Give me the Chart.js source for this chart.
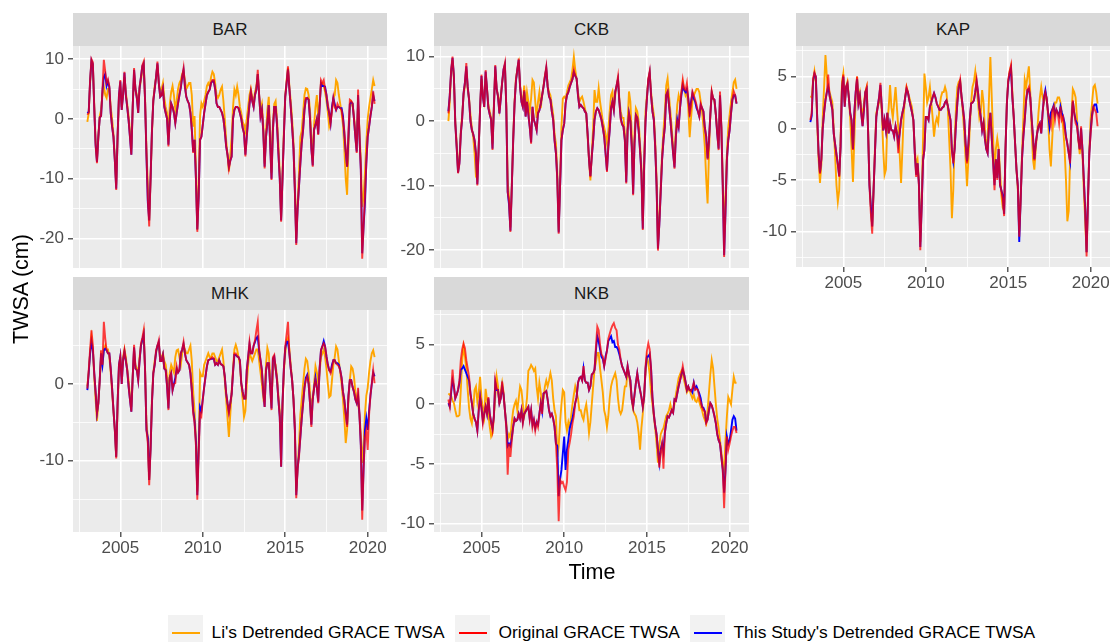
<!DOCTYPE html>
<html><head><meta charset="utf-8">
<script src="https://cdn.jsdelivr.net/npm/chart.js@4/dist/chart.umd.min.js"></script>
<style>
body{margin:0;background:#fff;}
#root{position:relative;width:1113px;height:642px;overflow:hidden;font-family:"Liberation Sans",Arial,sans-serif;background:#fff;}
.strip{position:absolute;background:#d9d9d9;color:#1a1a1a;font-size:17px;display:flex;align-items:center;justify-content:center;}
canvas{position:absolute;}
.title{position:absolute;color:#000;font-size:21.5px;text-align:center;white-space:nowrap;}
.lkey{position:absolute;width:35px;height:34px;background:#f2f2f2;}
.lkey div{position:absolute;left:4px;right:3px;top:17px;height:2px;}
.ltext{position:absolute;font-size:17.4px;color:#000;line-height:24px;white-space:nowrap;}
</style></head>
<body><div id="root"></div>
<script>
// ---- time grid: monthly samples, Jan 2003 .. Jun 2020 ----
const START_YEAR = 2003;
const N_MONTHS = 210;
const xTicks = [2002.5, 2005, 2007.5, 2010, 2012.5, 2015, 2017.5, 2020];
const seriesNames = ["Li's Detrended GRACE TWSA", "Original GRACE TWSA", "This Study's Detrended GRACE TWSA"];

// ---- BAR ----
const barOrig = [
0.7,1.0,6.5,10.0,9.5,2,-4.5,-7.4,-3,0.2,0.5,5,
9.9,8,6,6.6,5.5,1,-1.3,-3,-7,-11.9,-3,4,
6.5,1.5,4,7.9,4,2,-0.2,-3,-6,2,8.5,5,
3.5,1,5.4,7,9,9.6,3,-6,-13.5,-18,-10,-2,
3.2,5,7,9.6,6,3.7,4,5.1,2,1,0,-4.6,
0,2.6,2,1,-0.7,1,2.6,4,5.4,7,8.5,5.4,
3.7,3,2.5,1,-1.8,-5.7,-3.5,-10,-18.9,-13,-3.5,-3,
-1,1,2.5,4,4.5,4.9,6,6.5,6.5,5,2.6,2,
2,1.5,1,0,-2,-4.6,-6,-8.3,-7,-6.3,0,1.5,
2,2,1.8,1,0,-1.5,-2.4,-6.3,-3,0,2.5,4.6,
3,2,4,4.9,8.2,4,0.4,1.5,-2,-8.3,-3,-0.7,
2.3,-4,-10.2,-2,2,2,-1,-5.7,-10,-17.2,-10,-3,
3.7,6,8.8,5,2,-1.3,-5,-12,-21.1,-15,-11.3,-7.4,
-4,-1.8,1.5,3.5,3.5,3.2,0,-5,-8,-1.8,-1,0,
-2.7,2,6.5,6,6.5,5,4,2.5,1,-0.7,1.5,3.5,
2,1.5,2.5,2,1.8,1.5,0,-2,-5.2,-8,-2,3.2,
3,2.6,0,-3,-5.7,4.9,-3,-8.5,-23.4,-18,-13,-7.4,
-3,-1.3,0.5,2,4.6,2.5];
const barStudy = [
1.0,1.2,6.3,9.8,9.2,2,-4.3,-7.2,-3,0.2,0.5,4.8,
7,7.5,5.5,6.3,5.3,1,-1.3,-3,-7,-11.7,-3,4,
6.3,1.5,4,7.7,4,2,-0.2,-3,-6,2,8.2,5,
3.5,1,5.2,7,8.8,9.3,3,-6,-14,-17,-10,-2,
3,5,7,9.3,6,3.7,4,5,2,1,0,-4.3,
0,2.6,2,1,-0.7,1,2.6,4,5.2,7,8.2,5.4,
3.7,3,2.5,1,-1.8,-5.5,-3.5,-10,-18.5,-13,-3.5,-3,
-1,1,2.5,4,4.5,4.9,6,6.3,6.3,5,2.6,2,
2,1.5,1,0,-2,-4.6,-6,-8,-7,-6.3,0,1.5,
2,2,1.8,1,0,-1.5,-2.4,-6,-3,0,2.5,4.4,
3,2,4,4.9,7.5,4,0.4,1.5,-2,-8,-3,-0.7,
2.3,-4,-10,-2,2,2,-1,-5.7,-10,-17,-10,-3,
3.7,6,8.3,5,2,-1.3,-5,-12,-20.8,-15,-11.3,-7.4,
-4,-1.8,1.5,3.3,3.5,3.2,0,-5,-7.8,-1.8,-1,0,
-2.5,2,6,5.5,5.5,5.4,4,2,1,-0.7,2,3.5,
2.5,1.5,2,2,1.8,1.8,0.5,-2.5,-5.5,-8,-3,2.5,
2.8,2.6,0,-3,-5.5,4,-3,-8.5,-22.5,-18,-14,-7.4,
-3,-1.3,0.5,2,4,3];
const barLi = [
-0.5,1,6,9.5,9,2.5,-3.5,-6.8,-3,0.5,1.5,4,
5.5,4,3.5,5,5,2,0,-2.5,-6.5,-11,-3,3.5,
5,2,4.5,7,4.5,2.5,0.5,-2,-5,2,7.5,5,
4,2.5,5,6.5,8,9,3.5,-5,-11,-17,-10,-2.5,
3,5.5,7,9,6,4.5,5,6,3.5,2,1,-3,
2.5,4.5,5.5,4,1.5,3,5,6,6.5,7.5,8,6.5,
5,5.5,6,6,4,-1.3,0.5,-8,-18.5,-11,0.5,2.6,
2,3,4,5.5,6,5.5,7,7.9,7.5,6,4,3.5,
4,4.9,5.4,3,0,-3.5,-6,-8.8,-6,-3,2,4.9,
4,5.4,4,2,1,-0.5,-1,-2,0,2,4,5,
3.5,3,4.5,5.5,7.5,4,1.5,2.5,-1,-7.5,-2,1.5,
3.7,-2,-9,-1,2.5,3,0,-4,-9,-16.5,-9,-2,
4,6.5,8.5,5.5,3,0,-4,-11,-20,-14,-9,-3,
-2,1,4,5.1,5,4,1.5,-3,-6.5,-1,2,4,
0,2.5,6,6,5.5,4.5,3,1,-1.3,-0.5,1.5,3.5,
4,6.5,6,4,2.5,1,-1,-5,-10,-12.7,-5,1.5,
2.9,2.5,0.5,-2,-3,2.5,-2,-7,-14.7,-13,-9,-4,
0,2,3.5,5,6.5,5.5];

// ---- CKB ----
const ckbOrig = [
1.2,4,8,10,6.9,-0.5,-4,-8.1,-6.6,-2,0.4,4.3,
6,9,5.3,3.3,0,-1.4,-2,-3,-5,-10,-4,2,
7.2,3.8,2.2,7.9,5,2,1,0.2,-4.5,2,8.7,5,
3.8,1.2,3.5,6,8,9,2,-11,-12.5,-17.2,-10.2,-3,
2.7,6.4,8,9.7,5.3,3,2.2,4.8,0.7,3,1,-0.9,
-3.5,2.2,0.2,-0.5,-1.4,1.2,1.7,2.7,4,5.3,7,8.4,
5.3,3.8,3.3,1.5,0.2,-3,-5,-9.2,-17.5,-10.2,-3,-1.4,
-0.4,2.7,4,4.5,5.3,5.9,6.5,7.9,7,6.6,4,2.2,
2.5,2.2,2,1.5,1.2,-2,-6,-8.7,-5.5,-3,0.2,1.5,
2,1.7,1,0.2,-1,-2.4,-5,-7.9,-4,-1.4,2,3,
1.7,4.6,5.5,6.9,3,0.2,-0.5,-0.9,-3,-9.7,-1.4,1.2,
0,-4,-11.5,-3.5,0.9,0.5,-1.5,-4.5,-8.1,-16.9,-7,0,
3.5,6.5,7.7,4,1.5,0.2,-4,-10,-20.1,-16,-11,-6,
-3,-0.9,4,4.6,2.5,0.2,-2.4,-5,-7.4,-2.4,-0.1,-0.9,
2,4.5,6.4,5,4.8,5.9,3.5,0.7,2.5,4.6,4,3.3,
2.5,1.5,0.7,2.7,2,1.5,-1,-2.4,-6,-3,1,4.6,
3.5,3.3,1,-2,-4.5,4.6,-1,-10.2,-21.1,-14,-6,-3,
-1.4,1.2,3.3,4.6,4,2.7];
const ckbStudy = [
1.5,4,7.8,9.8,6.9,-0.3,-4,-8,-6.5,-2,0.4,4.3,
6,8.5,5.3,3.3,0,-1.4,-2,-3,-5,-9.8,-4,2,
7,3.8,2.2,7.7,5,2,1,0.2,-4.3,2,8.5,5,
3.8,1.2,3.5,6,8,8.8,2,-11,-13,-17,-10.2,-3,
2.7,6.2,8,9.5,5.3,3,2.2,4.6,0.7,3,1,-0.9,
-3.3,2.2,0.2,-0.5,-1.4,1.2,1.7,2.7,4,5.3,6.8,8.2,
5.3,3.8,3.3,1.5,0.2,-3,-5,-9,-17.3,-10.2,-3,-1.4,
-0.4,2.7,4,4.5,5.3,5.9,6.5,7.6,7,6.6,4,2.2,
2.5,2.2,2,1.5,1.2,-2,-6,-8.5,-5.5,-3,0.2,1.5,
2,1.7,1,0.2,-1,-2.4,-5,-7.7,-4,-1.4,2,3,
1.7,4.5,5.5,6.5,3,0.5,-0.5,-0.9,-3,-9.5,-1.4,1.2,
0,-4,-11.3,-3.5,0.9,0.5,-1.5,-4.5,-8,-16.7,-7,0,
3.5,6.3,7.5,4,1.5,0.2,-4,-10,-19.8,-16,-11,-6,
-3,-0.9,4,4.5,2.5,0.2,-2.4,-5,-7.2,-2.4,0.2,-0.9,
2,4,5.5,4.8,4.5,5,3.5,1.5,3,4.3,3.5,3,
2,1.5,0.7,2.5,2,1.5,-1,-2.4,-5.8,-3,1,4.4,
3.5,3.3,1,-2,-4.3,4,-1,-10,-20.8,-14,-6,-3,
-1.4,1.2,3.3,4,4,2.7];
const ckbLi = [
0,3,7.5,9.5,6.5,0,-3.5,-7.5,-6,-1.5,1,4,
5.5,8,5,3.5,1,-1,-2.5,-5,-8.6,-9,-4,2,
6.5,4,3,7,5,2.5,1.5,0.5,-3.5,2.5,8,5,
4,2,4,6,7.5,8.5,2.5,-9,-12,-16.5,-10,-2.5,
3,6.5,8,9,5.5,3.5,3,5.5,2,4.5,3,1.5,
3.5,6.4,6,3,0.5,3,4.5,2,4,5.5,7,8,
5.5,4.5,4,2.5,1,-2,-3.5,-8,-17,-9,-1,3.5,
3.8,3.5,4.5,5.5,6,6.5,8,10,8,6.5,4.5,3,
3.5,3.8,3,2,1,-2.5,-6,-9.2,-5,-1,4.8,3,
3,5.1,3,1.5,0,-1,-2,-3.5,-1.5,1.5,4,4.6,
2,4,5.5,6.5,3.5,1.5,0.5,0.5,-2,-8.5,0,4.6,
3,-2,-9,-2,2,1.5,0,-3.5,-7,-15.5,-6,1.5,
4,6.5,7.5,4.5,2.5,1,-3,-9,-19,-15,-10,-5,
-1.5,1.5,5.5,6.6,4,1.5,-1,-4,-6.5,-1,2.5,4,
3,4.5,6,5,4,4.5,2,-2.5,0.5,3,4,4.5,
5,5,4.5,3,1.5,-1,-4,-9,-12.8,-5,1,4.5,
3.5,3,1,-1.5,-3,3,-1,-9,-16.4,-12,-5,-1,
1,3,4.5,6,6.4,5];

// ---- KAP ----
const kapOrig = [
0.8,1.5,4.8,5.4,5,1,-2.4,-4.4,-3,0,1.5,2.7,
3.5,5.2,3.1,2.5,1.8,-0.5,-1.5,-2.5,-3.5,-4.7,-1.8,4,
5.2,2.1,4,4.4,3,1.5,0.8,-2.1,1.5,3.5,5,2.4,
3.1,1.5,0.2,1.8,3.5,4,-0.2,-5.5,-8.2,-10.2,-6,-2.4,
1.1,2.1,3,4.4,2,-0.2,0.8,-0.2,1.5,-0.5,0.5,-0.2,
-0.2,-0.8,0.2,-0.5,-2.4,-0.5,0.8,1.5,2.1,3,4,3.5,
2.7,2.1,1.5,0.8,-2.4,-4.7,-3.4,-5.6,-11.8,-7.6,-3.1,-2.1,
1.1,1.1,0.8,2.1,2.5,3,3.4,3,2.4,2.1,1.8,1.8,
2,2.1,2.5,2.7,2.2,1.5,0.8,-2.1,-3.4,-2,0.5,2.5,
4,4.7,3.1,2,0.8,-1.5,-3.4,-1.5,0.8,2.4,2.5,2.7,
3.5,4.7,3.5,2,1.1,-0.2,0.5,-1,-2,-2.4,0.2,1.5,
-1,-3.4,-6,-3,-5,-2,-5.5,-6,-6.9,-8.5,-2,2.4,
4.7,5.5,6.1,3,1.1,-1.5,-4,-5.6,-10.5,-7,-3,-0.8,
0.8,2.7,3.7,4,3,1,-0.8,-3.1,-1.5,-0.5,0.2,0.5,
-0.5,1.5,3,3.5,2.8,1.5,0.8,0.2,1.8,2.1,0.8,1.8,
1.5,0.5,2.1,0.8,1.1,0,-0.8,-1.5,-2.4,-3.4,0.5,2.7,
1.5,0.5,0.2,-1.1,-2.1,0.2,-2.1,-5,-8,-12.4,-7,-2.4,
-0.5,1.1,2.1,1.8,1.5,0.2];
const kapStudy = [
0.6,1.2,4.6,5.3,5,1,-2.4,-4.3,-3,0,1.5,2.7,
3.5,4,3.2,2.5,1.8,-0.5,-1.5,-2.5,-3.5,-4.6,-1.8,3.8,
5,2.1,4,4.3,3,1.5,0.8,-2,1.5,3.5,4.8,2.4,
3.1,1.5,0.2,1.8,3.5,3.8,-0.2,-5.5,-7.5,-9.5,-6,-2.4,
1.1,2.1,3,4.2,2,-0.2,0.8,-0.2,1.5,-0.5,0.5,-0.2,
-0.2,-0.8,0.2,-0.5,-1.5,-0.5,0.8,1.5,2.1,3,3.8,3.5,
2.7,2.1,1.5,0.8,-2.4,-4.5,-3.4,-5.4,-11.5,-7.6,-3.1,-2.1,
1.1,1.1,0.8,2.1,2.5,3,3.4,3,2.4,2.1,1.8,1.8,
2,2.1,2.5,2.7,2.2,1.5,0.8,-2.1,-3.2,-2,0.5,2.5,
4,4.5,3.1,2,0.8,-1.5,-3.2,-1.5,0.8,2.4,2.5,2.7,
3.5,4.5,3.5,2,1.1,-0.2,0.5,-1,-2,-2.4,0.2,1.5,
-1,-3.2,-5.5,-3,-4.8,-2,-5.5,-6,-6.5,-8.3,-2,2.4,
4.5,5.3,5.8,3,1.1,-1.5,-4,-5.6,-11,-7,-3,-0.8,
0.8,2.7,3.7,3.8,3,1,-0.8,-3,-1.5,-0.5,0.2,0.5,
-0.5,1.5,3,3.7,2.8,1.5,0.2,1.5,1.8,2.2,1.3,1.8,
1.5,1.2,2.1,1.5,1.1,0.5,-0.8,-1.5,-2.4,-3.2,0.5,2.6,
1.5,0.8,0.5,-1,-2,0,-2,-5,-7.8,-12,-7,-2.4,
-0.2,1.3,2.1,2.3,2.3,1.5];
const kapLi = [
3.1,3,4.5,5.5,4.5,0.5,-3,-5.3,-3.5,1,4,7.1,
5,4,3.5,3,2.5,0,-2.5,-5.5,-7.1,-6,-1,4.5,
5.3,2.5,4,4.5,3,1,-2,-5.2,-1,3,5,3,
3.5,2,1,2.5,3.5,4,0,-5,-7.5,-9.5,-6,-2,
1.5,2,2.5,3.5,1.5,-2,-4.5,-4,0.5,2,4.2,2,
1,2.5,4,2,0,-2.5,-5.3,-2,1.5,3,4,3.5,
3,2.5,2,0.5,-2,-3.5,-3,-5,-11,-7,-1,5.3,
4,2.5,3,4,2.5,1,-0.8,0.5,1,0.5,2,3,
3.5,3.5,4,3.5,2,-1,-4,-8.7,-6,-1,2,4,
4.5,4.7,3,1.5,-0.5,-3,-5.6,-3,0,2.5,4,4.5,
5.5,4,2.5,1,1.5,3.7,2.5,0,-2,-1,3,6.9,
3,-1,-4.5,-2,-1,-2,-4,-6.5,-7.7,-8,-2,2.5,
4.5,5.5,6,3.5,1,-1.5,-4,-6,-10,-7,-2.5,1,
4.7,4,5,6,3.5,0,-3,-4,-2,-0.5,1.5,3,
4,3,2.5,3,3,1,-2,-3.7,-1,1.5,2.5,2.5,
3,3,2.5,1.5,0,-2,-5,-9,-8,-3,1,3.8,
3.5,3,1,-1,-2.5,-1,-2.5,-6,-9,-12,-7,-2,
1,2.5,4,4.2,3.5,2.4];

// ---- MHK ----
const mhkOrig = [
-0.6,1.8,4.5,7,5,1.5,-1,-3.8,-2.5,0.5,4.4,2.5,
8.1,6,4.4,4,4,2,-0.5,-3.4,-6,-9.7,-2.5,2.5,
3.6,0,3.1,4.4,3,1.8,-0.3,-2,-3.6,0.9,5.1,2,
1.8,0.5,3,5.3,6,7,1.8,-6,-7.7,-13.2,-8.5,-2.5,
1.4,2.5,4.4,5,5.7,3,3,3.8,2,1.8,-0.3,-3.4,
0.9,1.4,-0.8,0,0.1,2.3,1.5,1.8,4,4.5,5.5,4,
3.1,2.8,2.5,1.4,-0.8,-3.8,-5.1,-8,-15.1,-9,-3.8,-4.2,
-2,-0.4,1,2.3,3.1,3.2,3.3,3.5,3.3,2.5,2.7,2.5,
3.1,2.6,2.5,2.3,1,-1.2,-2.5,-3.8,-2.5,-1.3,1.5,4,
4,3.6,3.5,3.1,0.1,-1,-1.9,-1.9,1.8,3.5,5.5,4,
4,5,5.7,7,8.1,4.6,3.1,1.8,-1,-3,1.8,2.7,
2.7,-0.3,-3.4,3.5,3.8,2,0.5,-2,-4.3,-10.8,-2.5,2,
4.9,6.5,8.1,4,2,0.5,-2,-6,-14.9,-11,-9.5,-6.9,
-4.5,-2.5,-0.5,0.5,1,0,-2.5,-5.6,-2,-0.5,0.5,-0.5,
-2.5,2,4.4,4.9,5.3,4.9,3.6,2.5,1.8,1.4,2.2,3.1,
3.1,2.7,2.5,2.3,1.8,0.8,-1,-2.1,-4,-5.6,-1.5,0.5,
0.5,-0.4,-1,-2,-2.5,-0.5,-4,-8,-17.7,-11,-7,-6,
-8.6,-4,-1.5,0.1,1.8,0.1];
const mhkStudy = [
-0.8,1.5,4,5.5,4.5,1.5,-1,-3.8,-2.5,0.5,4,2.5,
4.4,4.6,4.4,4,4,2,-0.5,-3.4,-6,-9.5,-2.5,2.5,
3.6,0,3.1,4.2,3,1.8,-0.3,-2,-3.6,0.9,4.8,2,
1.8,0.5,3,5,5.8,6.5,1.8,-6,-7,-12.5,-8.5,-2.5,
1.4,2.5,4.2,5,5.5,3,3,3.8,2,1.8,-0.3,-3.2,
0.9,1.4,-0.8,0,0.8,2,1.5,1.8,4,4.5,5.2,4,
3.1,2.8,2.5,1.4,-0.8,-3.5,-4.8,-7.5,-14.5,-8.5,-3,-3.5,
-2,-0.4,1,2.3,3.1,3.2,3.3,3.3,3.3,2.5,2.7,2.5,
3.1,2.6,2.5,2.3,1,-1.2,-2.5,-3.6,-2.5,-1.3,1.5,3.8,
3.8,3.6,3.5,3.1,0.1,-1,-1.9,-1.9,1.8,3.5,5.2,4,
4,5,5.5,6,6.2,4.3,3.1,1.8,-1,-3,1.8,2.7,
2.7,-0.3,-3.2,3.3,3.6,2,0.5,-2,-4.3,-10.8,-2.5,2,
4.7,5.5,5.5,4,2,0.5,-2,-6,-14.5,-11,-9.2,-6.9,
-4.5,-2.5,-0.5,0.8,1.2,0,-2.5,-5.3,-2,-0.5,0.8,-0.5,
-2.3,2,4.4,4.9,5.6,4.9,3.6,2.5,1.8,1.6,2.5,3.1,
3.1,2.7,2.7,2.5,1.8,0.8,-1,-2.1,-3.8,-5.3,-1.5,0.5,
0.5,-0.4,-1,-2,-2.5,-1.5,-4,-8,-16.5,-11,-6,-4.5,
-6,-3.5,-1.5,0.1,1.5,1];
const mhkLi = [
-0.3,1.5,4,6,4.5,1,-2,-4.8,-2.5,0.5,3.5,2.5,
4.5,5,4.5,4.5,3.5,1.5,-1,-3.5,-6,-9.5,-3,2,
3.5,1,3.5,4.5,3.5,2,0.5,-1.5,-3,1,4.5,2.5,
2,1.5,3.5,5,5.5,6.5,2,-5,-7,-12.5,-8,-2,
1.5,3,4,5,5,3.5,3.5,4,3,2.5,1,-1,
1.5,2.5,2,1.5,3.5,4.4,4.5,3.5,2.5,4,5,4.5,
4,4,4.5,5,3,-1,-3.5,-7,-14,-8,1.5,1,
1,2.5,3,3.5,4,3.5,3.5,4,4,3.5,3,3,
3.5,4,4.5,3,0.5,-2,-4.5,-6.9,-4,-1,2,4.5,
5.1,4.5,3.5,2.5,0,-2,-4.3,-3.5,0,2.5,4,3.5,
3,3.5,4,4.5,4.5,3,1.5,0,-1.7,-1,2.5,4.7,
4,1,-2,1.5,3,2.5,1,-1.5,-3.5,-6.9,-3,1.5,
4,5.5,6,4.5,2.5,0.5,-2,-5.5,-14,-11,-8,-4,
-2,0,2,3.3,3,1.5,-1,-3,-2,0,2.3,1.5,
0,1.5,3.5,4,4.5,3.5,2,0,-1.7,-1.5,0.5,2.5,
3.5,4.9,4.5,3,1.5,0,-2,-4.5,-7.7,-6,-2,0.5,
2.3,2,1,-1,-2,-2.5,-4,-6.5,-10.3,-8,-4,-1.5,
-0.5,1.5,3,4,4.4,3.5];

// ---- NKB ----
const nkbOrig = [
0.4,-0.2,1.2,2.9,1.5,0.5,0.8,1.2,2,3.7,4.6,5.1,
4.7,3.7,3,2.3,0.9,0.1,-0.8,-1.2,-1.5,-2.2,-0.5,0.6,
-0.3,-1.6,-0.8,-0.2,-0.8,0.6,-0.8,-1.5,-2.2,-1,2,1.3,
1.2,0.1,0.5,1.9,0.8,-0.5,-2,-5.9,-3.3,-4.4,-3,-1.9,
-1.2,-1.4,-1.3,-0.8,-1.2,-0.5,-1.6,-0.8,-0.6,-0.4,-0.2,-1.3,
-0.5,-1.9,-1.3,-2.2,-1.5,-1.9,-0.8,0.1,-0.8,0.9,1,1.1,
0.4,-0.5,-1,-0.8,-1.2,-1.9,-3.3,-5.5,-9.8,-6.3,-6.6,-6.5,
-6.9,-7.2,-6.5,-3.8,-3.2,-2.5,-1.6,-1,0.1,0.6,1.8,2.2,
2.3,2,3.2,2,1.8,1.8,1.2,1.5,2.5,2.6,2.9,4.8,
6.5,6.2,5,4.2,4,3.2,3.8,4.5,5.5,5.9,6.3,6.6,
6.8,6.4,6.2,5,4.6,3.7,3.2,2.9,2.6,2.3,3.2,2.5,
2,0.4,-0.2,0.8,1.8,2.6,1.8,1.2,0.6,-0.2,0.6,3.2,
4.5,5.1,4.6,3,0.6,-0.8,-1.8,-2.5,-3.8,-5.3,-4,-3.3,
-5.4,-2.4,-1.6,-1,-1.1,-0.8,-0.5,-0.7,0.4,0.3,0.9,1.5,
2,2.5,3.2,2.5,1.9,1.2,1.5,1.2,1.1,1.4,1.8,1.2,
1.3,1.2,0.6,0.2,-0.2,-0.5,-0.6,-1.6,-1.3,-0.5,0.1,-0.1,
-0.5,-1,-1.6,-2.5,-3,-3.3,-4.4,-5.5,-8.7,-5.5,-2.7,-3.8,
-3.3,-2.7,-2.2,-1.9,-1.9,-2.4];
const nkbStudy = [
0.1,-0.2,1,2,1.5,0.5,0.8,1.2,1.8,2.9,3,3.2,
2.9,2.6,2.3,2,0.9,0.1,-0.8,-1.2,-1.5,-2.2,-0.5,0.6,
-0.3,-1.4,-0.8,-0.2,-0.8,0.5,-0.8,-1.5,-2,-1,1.8,1.2,
1.2,0.1,0.5,1.5,0.8,-0.5,-1.8,-3.5,-3.3,-3.5,-2.8,-1.9,
-1.2,-1.4,-1.3,-0.8,-1.2,-0.5,-1.5,-0.8,-0.6,-0.4,-0.2,-1.2,
-0.5,-1.7,-1.3,-2,-1.5,-1.7,-0.8,0.1,-0.6,0.9,1,1.1,
0.4,-0.5,-1,-0.8,-1.2,-1.9,-3.3,-3.5,-7.7,-6.3,-5.5,-4.1,
-2.7,-5.5,-3.8,-3,-2,-1.6,-1.2,-0.5,0.1,0.6,1.8,2.2,
2.3,2,3,2,1.8,1.8,1.2,1.5,2.5,2.6,2.9,4.5,
5.7,5.3,4.6,4,3.8,3.2,4,4.5,5.3,5.5,5.7,5.2,
5.3,4.8,4.8,4.6,4.2,3.7,3.2,2.9,2.6,2.3,3.2,2.5,
2,0.4,-0.2,0.8,1.8,2.6,1.8,1.2,0.6,-0.2,0.6,3,
4,4,4.2,3,0.6,-0.8,-1.8,-2.5,-3.8,-4.9,-3.8,-3.3,
-4,-2.4,-1.6,-1,-1.1,-0.8,-0.5,-0.7,0.4,0.3,0.9,1.5,
2,2.5,2.9,2.5,1.9,1.2,1.5,1.2,1.2,1,1.8,1.3,
1.5,1.2,0.9,0.5,-0.2,-0.3,-0.6,-1.5,-1.3,-0.5,0.1,-0.1,
-0.5,-1,-1.6,-2.5,-3,-3.3,-4.4,-5.5,-7.4,-5.5,-2.7,-3.3,
-3,-2.2,-1.3,-1,-1.2,-2.2];
const nkbLi = [
0.9,0.8,0.7,0.3,0.1,-0.5,-1,-1,-0.9,1.2,3.7,4.8,
4,3,1.2,-0.3,-1.2,-1.6,-0.5,1.2,1.5,0.2,1,2.3,
0.5,-0.3,-1,1.3,0.4,-0.8,-1.9,-2.7,-2.4,-1,0.6,2.3,
1.5,0,1,1.8,1,-0.5,-1.5,-3,-2.5,-2.8,-1.5,-0.5,
0,0.3,-0.5,0.5,1.5,1.2,0,-1,-0.5,0.5,2.8,3,
3.3,3.1,2.8,3,1.5,0.5,1.8,1,0,0.5,1.5,2,
1.5,2,2.6,2,0.5,-0.5,-1,-4.4,-3.5,-1.5,0,1.2,
1,-1.5,-2.2,-1.5,-2,-1,0,0.8,1.5,1,0.5,-0.5,
-0.5,-1,-1.3,-0.5,0,-1,-2.4,-1.5,0,1.5,2.9,3.5,
4.3,4.3,3,2,1,-0.5,-1,-1.9,-1,0.5,1.5,2,
2.3,2.6,2,0.5,-0.5,-0.8,-0.5,0.5,1.5,1.5,2.9,2.5,
1.5,0.5,-0.5,-0.8,-1,-1.5,-2.4,-3.8,-2,-0.8,1,2.5,
4,3.5,2.5,1,0,-1,-2,-3.3,-4.9,-3.5,-2.5,-2.2,
-2,-1.5,-1,-0.8,-0.5,0,-0.6,-0.5,0,0.8,1.5,2.2,
2.5,2.8,2.5,2,1.5,1,1.2,1.2,0.8,0.5,0.8,0.3,
0.2,0.5,0.2,-0.2,-0.5,-1,-1.3,-1.6,-0.5,1,2.5,3.7,
3,1.5,0,-1.2,-2,-3,-4,-5,-5.5,-3,-1,0.6,
0.3,0,1.2,2.3,1.8,1.8];

// ---- panel layout (chart-area boxes in page pixels) ----
const panels = [
  {name:'BAR', li:barLi, orig:barOrig, study:barStudy, L:73,  T:46,  W:314, H:222, yMin:-24.95, yMax:12.2, yTicks:[-20,-15,-10,-5,0,5,10], major:10, xLabels:false},
  {name:'CKB', li:ckbLi, orig:ckbOrig, study:ckbStudy, L:434, T:46,  W:315, H:222, yMin:-22.8, yMax:11.65, yTicks:[-20,-15,-10,-5,0,5,10], major:10, xLabels:false},
  {name:'KAP', li:kapLi, orig:kapOrig, study:kapStudy, L:796, T:46,  W:314, H:221, yMin:-13.43, yMax:7.97, yTicks:[-12.5,-10,-7.5,-5,-2.5,0,2.5,5,7.5], major:5, xLabels:true},
  {name:'MHK', li:mhkLi, orig:mhkOrig, study:mhkStudy, L:73,  T:310, W:314, H:222, yMin:-19.3, yMax:9.65, yTicks:[-15,-10,-5,0,5], major:10, xLabels:true},
  {name:'NKB', li:nkbLi, orig:nkbOrig, study:nkbStudy, L:434, T:310, W:315, H:222, yMin:-10.7, yMax:7.9, yTicks:[-10,-7.5,-5,-2.5,0,2.5,5,7.5], major:5, xLabels:true}
];
const X_MIN = 2002.13, X_MAX = 2021.17;
const COLORS = {li:'#FFA500', orig:'rgba(255,0,0,0.75)', study:'#0000FF'};

const root = document.getElementById('root');
const times = Array.from({length:N_MONTHS}, (_, i) => START_YEAR + i / 12);
const toXY = arr => arr.map((v, i) => ({x: times[i], y: v}));
const isMajor = (v, m) => Math.abs(v % m) < 1e-9;

const bgPlugin = {
  id:'panelBg',
  beforeDraw(chart){
    const {ctx, chartArea:a} = chart;
    ctx.save(); ctx.fillStyle = '#ebebeb';
    ctx.fillRect(a.left, a.top, a.right - a.left, a.bottom - a.top);
    ctx.restore();
  }
};

const YW = 70, PT = 18, PR = 30, XH = 34, PB = 18;
const FONT = '"Liberation Sans", Arial, sans-serif';
const TICK_SIZE = 17;

panels.forEach(p => {
  const s = document.createElement('div');
  s.className = 'strip';
  s.style.left = p.L + 'px'; s.style.top = (p.T - 33) + 'px';
  s.style.width = p.W + 'px'; s.style.height = '33px';
  s.textContent = p.name;
  root.appendChild(s);

  const c = document.createElement('canvas');
  const cw = YW + p.W + PR, ch = PT + p.H + (p.xLabels ? XH : PB);
  c.width = cw; c.height = ch;
  c.style.width = cw + 'px'; c.style.height = ch + 'px';
  c.style.left = (p.L - YW) + 'px'; c.style.top = (p.T - PT) + 'px';
  root.appendChild(c);

  new Chart(c, {
    type:'line',
    data:{datasets:[
      {label:seriesNames[1], data:toXY(p.orig), borderColor:COLORS.orig, order:0},
      {label:seriesNames[2], data:toXY(p.study), borderColor:COLORS.study, order:1},
      {label:seriesNames[0], data:toXY(p.li), borderColor:COLORS.li, order:2}
    ]},
    options:{
      responsive:false, animation:false, devicePixelRatio:1,
      layout:{padding:{left:0, top:PT, right:PR, bottom:p.xLabels ? 0 : PB}},
      elements:{line:{borderWidth:1.9, tension:0}, point:{radius:0}},
      plugins:{legend:{display:false}, tooltip:{enabled:false}},
      scales:{
        x:{
          type:'linear', min:X_MIN, max:X_MAX,
          afterBuildTicks: ax => { ax.ticks = xTicks.map(v => ({value:v})); },
          afterFit: ax => { ax.height = p.xLabels ? XH : 0; },
          border:{display:false},
          grid:{
            color:'#ffffff',
            lineWidth: ctx => isMajor(ctx.tick.value, 5) ? 1.6 : 0.8,
            drawTicks: p.xLabels, tickLength:5, tickWidth:1.2,
            tickColor: ctx => isMajor(ctx.tick.value, 5) ? '#333333' : 'rgba(0,0,0,0)'
          },
          ticks:{
            display:p.xLabels, autoSkip:false, maxRotation:0, minRotation:0, padding:1,
            color:'#4d4d4d', font:{family:FONT, size:TICK_SIZE},
            callback: v => isMajor(v, 5) ? String(v) : ''
          }
        },
        y:{
          type:'linear', min:p.yMin, max:p.yMax,
          afterBuildTicks: ax => { ax.ticks = p.yTicks.map(v => ({value:v})); },
          afterFit: ax => { ax.width = YW; },
          border:{display:false},
          grid:{
            color:'#ffffff',
            lineWidth: ctx => isMajor(ctx.tick.value, p.major) ? 1.6 : 0.8,
            drawTicks:true, tickLength:5, tickWidth:1.2,
            tickColor: ctx => isMajor(ctx.tick.value, p.major) ? '#333333' : 'rgba(0,0,0,0)'
          },
          ticks:{
            autoSkip:false, padding:4, color:'#4d4d4d', font:{family:FONT, size:TICK_SIZE},
            callback: v => isMajor(v, p.major) ? String(v) : ''
          }
        }
      }
    },
    plugins:[bgPlugin]
  });
});

// axis titles
const yt = document.createElement('div');
yt.className = 'title'; yt.textContent = 'TWSA (cm)';
yt.style.left = (21 - 100) + 'px'; yt.style.top = (289 - 13) + 'px';
yt.style.width = '200px'; yt.style.height = '26px'; yt.style.lineHeight = '26px';
yt.style.transform = 'rotate(-90deg)';
root.appendChild(yt);
const xt = document.createElement('div');
xt.className = 'title'; xt.textContent = 'Time';
xt.style.left = (592 - 100) + 'px'; xt.style.top = (572 - 13) + 'px';
xt.style.width = '200px'; xt.style.height = '26px'; xt.style.lineHeight = '26px';
root.appendChild(xt);

// legend
const legendItems = [
  {name:seriesNames[0], color:'#FFA500', keyL:168, textL:211.5},
  {name:seriesNames[1], color:'#FF0000', keyL:455, textL:498.5},
  {name:seriesNames[2], color:'#0000FF', keyL:690, textL:733.5}
];
legendItems.forEach(it => {
  const k = document.createElement('div');
  k.className = 'lkey'; k.style.left = it.keyL + 'px'; k.style.top = '615px';
  const ln = document.createElement('div'); ln.style.background = it.color;
  k.appendChild(ln); root.appendChild(k);
  const t = document.createElement('div');
  t.className = 'ltext'; t.textContent = it.name;
  t.style.left = it.textL + 'px'; t.style.top = '620px';
  root.appendChild(t);
});
</script></body></html>
